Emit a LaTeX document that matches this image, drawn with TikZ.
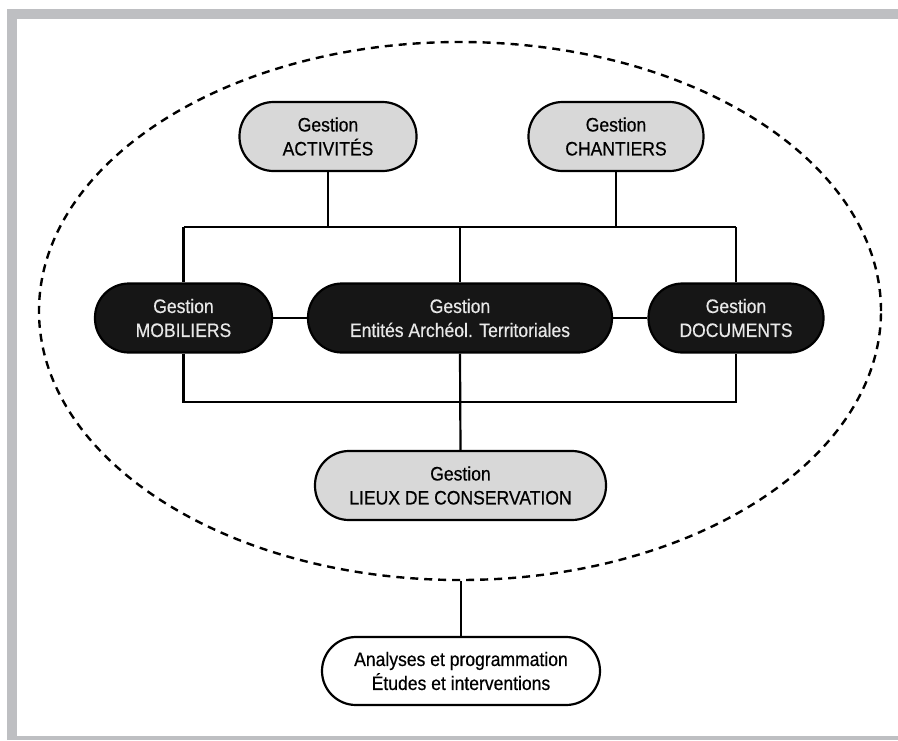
\documentclass[tikz,border=0pt]{standalone}
\usepackage{fontspec}
\setmainfont{Liberation Sans}[FakeStretch=0.9,FakeBold=0.5]
\usetikzlibrary{shapes.geometric}
\definecolor{framegray}{RGB}{190,191,194}
\definecolor{lightbox}{RGB}{216,216,216}
\definecolor{darkbox}{RGB}{22,22,22}
\definecolor{lighttext}{RGB}{232,232,232}
\begin{document}
\begin{tikzpicture}[x=1pt,y=-1pt,
  box/.style={draw=black, line width=2.2pt, rounded corners=34pt, minimum height=69pt,
    inner sep=0pt, align=center, font=\fontsize{19.5}{24}\selectfont},
  lightnode/.style={box, fill=lightbox, text=black},
  darknode/.style={box, fill=darkbox, text=lighttext},
  whitenode/.style={box, fill=white, text=black},
  link/.style={draw=black, line width=2.2pt}]
\useasboundingbox (0,0) rectangle (898,740);
% frame
\fill[framegray] (7,9) rectangle (898,19);
\fill[framegray] (7,9) rectangle (17,740);
\fill[framegray] (7,736) rectangle (898,740);
% dashed ellipse
\node[ellipse, draw=black, line width=2.4pt, dash pattern=on 8pt off 6pt,
  minimum width=842pt, minimum height=538pt, inner sep=0pt] (ell) at (460,311) {};
% nodes
\node[lightnode, minimum width=177pt] (act) at (328,136.5) {Gestion\\ACTIVITÉS};
\node[lightnode, minimum width=175pt] (cha) at (616,136.5) {Gestion\\CHANTIERS};
\node[darknode, minimum width=177pt] (mob) at (183.5,318) {Gestion\\MOBILIERS};
\node[darknode, minimum width=304pt] (ent) at (460,318) {Gestion\\Entités Archéol. Territoriales};
\node[darknode, minimum width=175pt] (doc) at (736,318) {Gestion\\DOCUMENTS};
\node[lightnode, minimum width=291pt] (lie) at (460.5,485.5) {Gestion\\LIEUX DE CONSERVATION};
\node[whitenode, minimum width=278pt, minimum height=68pt] (ana) at (461,671) {Analyses et programmation\\Études et interventions};
% junction coordinates
\coordinate (tl) at (183.5,227);
\coordinate (tr) at (736,227);
\coordinate (bl) at (183.5,402);
% connectors
\draw[link] (act.south) -- (act.south |- tl);
\draw[link] (cha.south) -- (cha.south |- tl);
\draw[link] (tl) -- (tr);
\draw[link] (tl) -- (mob.north);
\draw[link] (ent.north |- tl) -- (ent.north);
\draw[link] (tr) -- (doc.north);
\draw[link] (mob.east) -- (ent.west);
\draw[link] (ent.east) -- (doc.west);
\draw[link] (mob.south) -- (bl) -- (doc.south |- bl) -- (doc.south);
\draw[link] (ent.south) -- (lie.north);
\draw[link] (ana.north |- ell.south) -- (ana.north);
\end{tikzpicture}
\end{document}
